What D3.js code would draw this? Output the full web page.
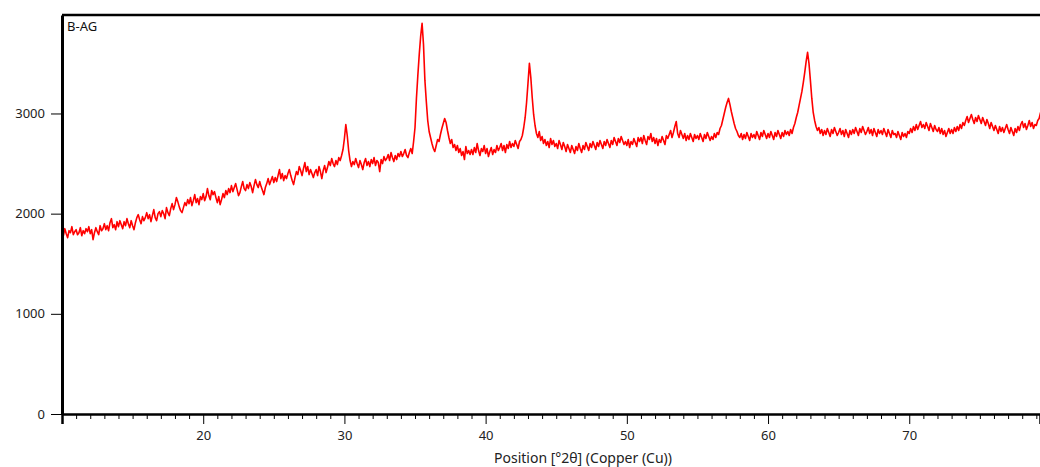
<!DOCTYPE html>
<html>
<head>
<meta charset="utf-8">
<script src="https://cdn.jsdelivr.net/npm/d3@7"></script>
<style>
  body { margin: 0; background: #fff; }
  #plot { width: 1040px; height: 467px; }
</style>
</head>
<body>
<div id="plot"></div>
<script>
// xrd pattern, B-AG sample

var sampleName = 'B-AG';
var xTitle = 'Position [°2θ] (Copper (Cu))';
var startPos = 10.0;   // first 2theta value
var stepPos = 0.1;     // 2theta step between counts
var xTicks = [20, 30, 40, 50, 60, 70];
var yTicks = [0, 1000, 2000, 3000];
var fontName = '"Noto Sans", "Open Sans", sans-serif';

// counts, one row per degree (x.0 ... x.9)
var counts = [
  1820,1780,1850,1800,1760,1830,1810,1870,1790,1820, // 10
  1840,1790,1810,1860,1780,1830,1800,1850,1820,1870,
  1800,1840,1740,1810,1860,1820,1790,1880,1830,1850,
  1900,1840,1880,1830,1910,1950,1860,1890,1840,1920,
  1870,1930,1890,1850,1920,1880,1950,1900,1860,1930,
  1880,1840,1910,1960,1990,1940,1900,1970,1930,1960, // 15
  2010,1950,1990,1920,1980,2040,1960,1930,2000,2020,
  1970,2030,2000,1950,2060,2010,1980,2050,2100,2040,
  2090,2160,2120,2070,2030,2010,2060,2110,2080,2140,
  2100,2160,2080,2130,2190,2110,2150,2090,2170,2140,
  2200,2130,2170,2250,2180,2140,2230,2190,2220,2160, // 20
  2110,2170,2090,2140,2200,2160,2230,2190,2250,2210,
  2280,2220,2260,2300,2240,2180,2210,2270,2320,2250,
  2230,2290,2250,2310,2270,2210,2280,2340,2290,2260,
  2320,2270,2230,2190,2260,2300,2350,2290,2330,2370,
  2310,2360,2320,2380,2440,2350,2400,2330,2380,2350, // 25
  2400,2440,2380,2330,2290,2360,2420,2390,2470,2430,
  2380,2450,2510,2420,2470,2390,2440,2400,2360,2410,
  2440,2380,2470,2420,2350,2430,2480,2410,2460,2520,
  2480,2550,2500,2470,2530,2490,2560,2530,2580,2640,
  2750,2890,2780,2630,2530,2470,2520,2490,2550,2500, // 30
  2460,2530,2490,2440,2510,2550,2480,2520,2470,2540,
  2500,2560,2480,2530,2510,2420,2540,2500,2570,2530,
  2550,2590,2530,2610,2560,2520,2580,2540,2600,2570,
  2620,2570,2600,2640,2580,2560,2610,2650,2600,2720,
  2860,3150,3380,3590,3770,3900,3690,3330,3120,2930, // 35
  2820,2760,2700,2650,2620,2680,2740,2720,2790,2850,
  2900,2950,2910,2830,2760,2700,2740,2660,2690,2630,
  2680,2610,2650,2580,2620,2540,2670,2600,2630,2590,
  2640,2590,2660,2610,2700,2630,2580,2650,2620,2680,
  2600,2650,2570,2620,2660,2590,2640,2610,2680,2630, // 40
  2660,2700,2630,2680,2610,2690,2650,2720,2660,2700,
  2670,2730,2690,2650,2720,2740,2780,2860,2960,3110,
  3300,3500,3360,3160,2990,2880,2800,2760,2820,2730,
  2770,2700,2740,2680,2720,2660,2750,2690,2730,2670,
  2700,2650,2730,2690,2640,2710,2670,2620,2690,2650, // 45
  2610,2680,2640,2600,2670,2630,2700,2650,2610,2680,
  2640,2710,2670,2630,2700,2660,2720,2680,2640,2710,
  2670,2730,2690,2650,2720,2680,2740,2700,2660,2730,
  2690,2760,2720,2680,2750,2710,2770,2730,2690,2720,
  2680,2740,2660,2720,2690,2750,2710,2670,2760,2720, // 50
  2760,2700,2780,2730,2690,2770,2740,2800,2720,2760,
  2700,2750,2680,2740,2710,2770,2730,2690,2780,2750,
  2790,2830,2760,2810,2870,2920,2800,2760,2830,2790,
  2750,2800,2730,2780,2740,2800,2760,2720,2790,2750,
  2780,2740,2800,2760,2720,2790,2750,2810,2770,2730, // 55
  2770,2740,2800,2760,2810,2790,2850,2880,2940,3000,
  3060,3110,3150,3090,3020,2960,2900,2850,2820,2780,
  2760,2800,2740,2790,2750,2810,2770,2730,2800,2760,
  2790,2750,2820,2780,2740,2810,2770,2830,2790,2750,
  2800,2760,2820,2780,2740,2810,2770,2830,2790,2750, // 60
  2810,2770,2830,2790,2820,2780,2840,2800,2860,2900,
  2960,3010,3080,3150,3220,3310,3410,3520,3610,3500,
  3330,3150,3010,2930,2870,2830,2860,2800,2840,2780,
  2830,2790,2850,2810,2770,2840,2800,2860,2820,2780,
  2810,2850,2790,2830,2770,2840,2800,2760,2830,2790, // 65
  2840,2800,2860,2820,2780,2850,2810,2870,2830,2790,
  2820,2860,2800,2840,2780,2850,2810,2770,2840,2800,
  2830,2790,2850,2810,2770,2840,2800,2760,2830,2790,
  2800,2760,2820,2780,2740,2810,2770,2800,2760,2820,
  2800,2850,2810,2870,2830,2890,2840,2880,2920,2860, // 70
  2890,2850,2910,2870,2830,2900,2860,2820,2880,2840,
  2820,2860,2800,2850,2790,2830,2770,2810,2850,2800,
  2840,2800,2860,2820,2870,2830,2890,2850,2910,2880,
  2930,2970,2910,2950,2990,2940,2900,2960,2920,2980,
  2940,2900,2960,2920,2880,2940,2900,2850,2910,2870, // 75
  2830,2880,2840,2800,2870,2820,2860,2810,2850,2890,
  2840,2800,2860,2820,2780,2850,2810,2870,2830,2890,
  2920,2860,2900,2840,2880,2930,2870,2910,2850,2890,
  2880,2930,2950,3010
];

var data = counts.map(function (c, i) {
  return { pos: +(startPos + i * stepPos).toFixed(2), cnt: c };
});

//set up the plot area
var outerWidth = 1040, outerHeight = 467;
var margin = { left: 62, top: 15, right: 0, bottom: 53 };
var innerWidth = outerWidth - margin.left - margin.right;
var innerHeight = outerHeight - margin.top - margin.bottom;

var x = d3.scaleLinear().domain([10, 79.26]).range([0, innerWidth]);
var y = d3.scaleLinear().domain([0, 3983]).range([innerHeight, 0]);

var svg = d3.select('#plot').append('svg')
  .attr('width', outerWidth)
  .attr('height', outerHeight)
  .style('font-family', fontName);

var g = svg.append('g')
  .attr('transform', 'translate(' + margin.left + ',' + margin.top + ')');

g.append('clipPath').attr('id', 'clip')
  .append('rect').attr('width', innerWidth).attr('height', innerHeight);

//the pattern itself
var line = d3.line()
  .x(function (d) { return x(d.pos); })
  .y(function (d) { return y(d.cnt); });

g.append('path')
  .datum(data)
  .attr('clip-path', 'url(#clip)')
  .attr('d', line)
  .style('fill', 'none')
  .style('stroke', '#ff0000')
  .style('stroke-width', 1.6)
  .style('stroke-linejoin', 'round');

//top frame line
g.append('line')
  .attr('x1', 0).attr('x2', innerWidth)
  .attr('y1', 0).attr('y2', 0)
  .style('stroke', '#000').style('stroke-width', 2.5);

//x axis, minor ticks each degree then the major ones
var minorTicks = d3.range(11, 80).filter(function (v) { return v % 10 !== 0; });
g.append('g')
  .attr('class', 'xMinor')
  .attr('transform', 'translate(0,' + innerHeight + ')')
  .call(d3.axisBottom(x).tickValues(minorTicks).tickSize(5).tickFormat(''))
  .call(function (a) { a.select('.domain').remove(); });

var xAxis = g.append('g')
  .attr('class', 'xAxis')
  .attr('transform', 'translate(0,' + innerHeight + ')')
  .call(d3.axisBottom(x).tickValues(xTicks).tickSize(10).tickPadding(7).tickFormat(d3.format('d')))
  .attr('font-family', fontName);
xAxis.select('.domain').attr('stroke-width', 2.5);
xAxis.selectAll('text').style('font-size', '13px').attr('fill', '#222');

xAxis.append('text')
  .attr('fill', '#222')
  .style('text-anchor', 'middle')
  .attr('x', 521)
  .attr('y', 49)
  .style('font-size', '14px')
  .text(xTitle);

//y axis
var yAxis = g.append('g')
  .attr('class', 'yAxis')
  .call(d3.axisLeft(y).tickValues(yTicks).tickSize(11).tickPadding(6).tickSizeOuter(0).tickFormat(d3.format('d')))
  .attr('font-family', fontName);
yAxis.select('.domain').attr('stroke-width', 3);
yAxis.selectAll('text').style('font-size', '13px').attr('fill', '#222');

//sample label
g.append('text')
  .attr('x', 5)
  .attr('y', 16)
  .style('font-size', '13px')
  .attr('fill', '#111')
  .text(sampleName);
</script>
</body>
</html>
